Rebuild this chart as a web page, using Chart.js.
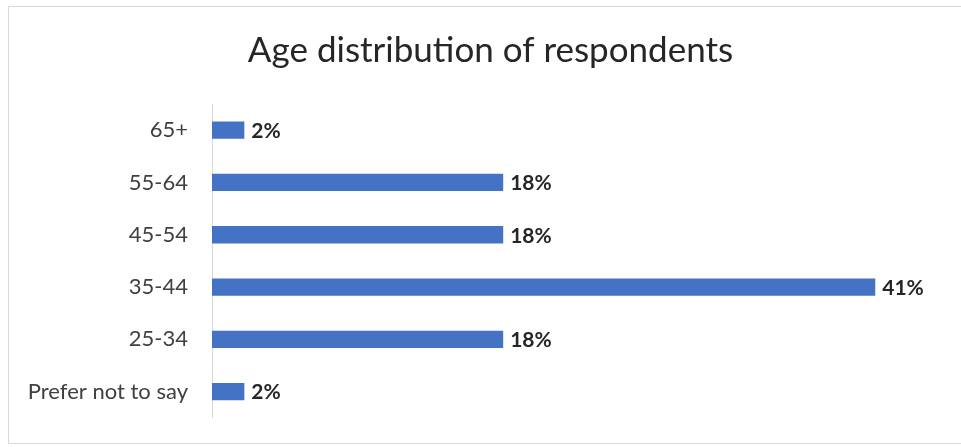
<!DOCTYPE html>
<html>
<head>
<meta charset="utf-8">
<title>Age distribution of respondents</title>
<script src="https://cdn.jsdelivr.net/npm/chart.js@4"></script>
<style>
  html, body { margin: 0; padding: 0; background: #fff; }
  #wrap { position: relative; width: 961px; height: 447px; overflow: hidden; }
  #frame {
    position: absolute; left: 8px; top: 6px; width: 1000px; height: 436px;
    border: 1px solid #d9d9d9; pointer-events: none;
  }
  canvas { position: absolute; left: 0; top: 0; }
</style>
</head>
<body>
<div id="wrap">
  <canvas id="ages" width="961" height="447"></canvas>
  <div id="frame"></div>
</div>
<script>
// age groups, top to bottom
var ageGroups = ['65+', '55-64', '45-54', '35-44', '25-34', 'Prefer not to say'];
var sharePct = [2, 18, 18, 41, 18, 2];

var FONT = 'Lato, "Open Sans", sans-serif';

// percent text drawn just past the end of each bar
var valueLabels = {
    id: 'valueLabels',
    afterDatasetsDraw: function (chart) {
        var ctx = chart.ctx;
        var meta = chart.getDatasetMeta(0);
        ctx.save();
        ctx.font = 'bold 21px ' + FONT;
        ctx.fillStyle = '#262626';
        ctx.textAlign = 'left';
        ctx.textBaseline = 'middle';
        meta.data.forEach(function (bar, i) {
            ctx.fillText(sharePct[i] + '%', bar.x + 7, bar.y + 1);
        });
        ctx.restore();
    }
};

var config = {
    type: 'bar',
    data: {
        labels: ageGroups,
        datasets: [
            {
                label: 'Share of respondents',
                data: sharePct,
                backgroundColor: '#4472C4',
                borderWidth: 0,
                barPercentage: 0.33,
                categoryPercentage: 1,
            },
        ],
    },
    options: {
        indexAxis: 'y',
        responsive: false,
        animation: false,
        layout: {
            padding: { left: 20, right: 0, top: 0, bottom: 29 },
        },
        plugins: {
            legend: { display: false },
            tooltip: { enabled: false },
            title: {
                display: true,
                text: 'Age distribution of respondents',
                color: '#262626',
                font: { family: FONT, size: 35, weight: 'normal' },
                padding: { top: 30, bottom: 32 },
            },
        },
        scales: {
            x: {
                display: false,
                min: 0,
                max: 46.3,
            },
            y: {
                afterFit: function (scale) {
                    scale.width = 192;
                },
                grid: { display: false },
                border: { display: true, color: '#d9d9d9', width: 1 },
                ticks: {
                    color: '#404040',
                    padding: 16,
                    font: { family: FONT, size: 22 },
                },
            },
        },
    },
    plugins: [valueLabels],
};

var ageChart = new Chart(document.getElementById('ages'), config);
</script>
</body>
</html>
